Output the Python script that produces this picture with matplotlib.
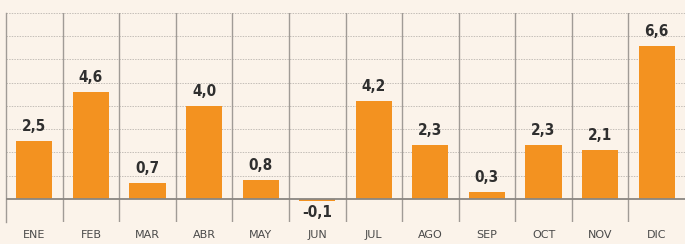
import numpy as np
import matplotlib.pyplot as plt

# Monthly values
months = ['ENE', 'FEB', 'MAR', 'ABR', 'MAY', 'JUN', 'JUL', 'AGO', 'SEP', 'OCT', 'NOV', 'DIC']
values = [2.5, 4.6, 0.7, 4.0, 0.8, -0.1, 4.2, 2.3, 0.3, 2.3, 2.1, 6.6]
labels = ['2,5', '4,6', '0,7', '4,0', '0,8', '-0,1', '4,2', '2,3', '0,3', '2,3', '2,1', '6,6']

bg = '#FBF3EA'
orange = '#F39220'

fig = plt.figure(figsize=(6.85, 2.44), dpi=100, facecolor=bg)
ax = fig.add_axes([6 / 685, 22 / 244, 1 - 6 / 685, 209 / 244])
ax.set_facecolor(bg)

x = np.arange(len(months))
ax.bar(x, values, width=0.64, color=orange, zorder=3)

ax.set_xlim(-0.5, len(months) - 0.5)
ax.set_ylim(-1, 8)

# dotted horizontal grid
for yv in range(-1, 9):
    if yv == 0:
        continue
    ax.axhline(yv, color='#c4beb8', lw=0.7, ls=(0, (1.5, 1.2)), zorder=1)
ax.axhline(0, color='#8a8681', lw=1.3, zorder=4)

# vertical separators
for xv in np.arange(0.5, len(months) - 0.5, 1):
    ax.axvline(xv, color='#a09b96', lw=1.0, zorder=2)

for s in ['top', 'right', 'bottom']:
    ax.spines[s].set_visible(False)
ax.spines['left'].set_color('#a09b96')
ax.spines['left'].set_linewidth(1.0)

ax.set_yticks([])
ax.set_xticks(x)
ax.set_xticklabels(months, fontsize=8, color='#4a4a4a')
ax.tick_params(axis='x', length=0, pad=6)

for xi, v, lab in zip(x, values, labels):
    if v >= 0:
        ax.text(xi, v + 0.3, lab, ha='center', va='bottom', fontsize=11,
                fontweight='bold', fontstretch='condensed', color='#2f2f2f', zorder=5)
    else:
        ax.text(xi, v - 0.15, lab, ha='center', va='top', fontsize=11,
                fontweight='bold', fontstretch='condensed', color='#2f2f2f', zorder=5)

fig.savefig('out.png', dpi=100, facecolor=bg)
